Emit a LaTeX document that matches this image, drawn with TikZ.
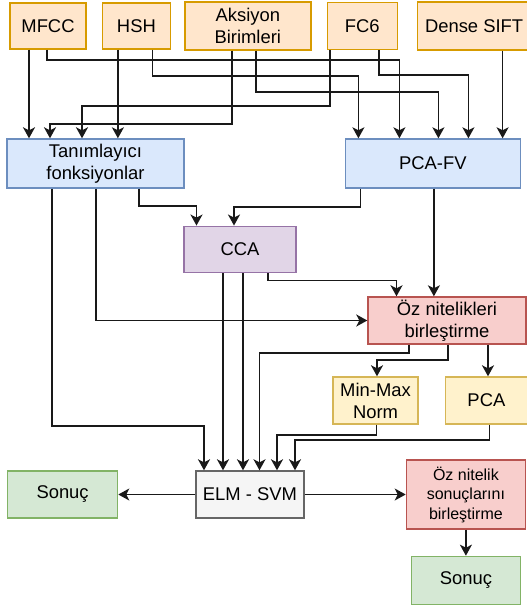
\documentclass[tikz,border=0pt]{standalone}
\usepackage{fontspec}
\setmainfont{Liberation Sans}
\usepackage{xcolor}
\usetikzlibrary{positioning,arrows.meta}

\definecolor{orangeline}{HTML}{D79B00}
\definecolor{orangefill}{HTML}{FFE6CC}
\definecolor{blueline}{HTML}{6C8EBF}
\definecolor{bluefill}{HTML}{DAE8FC}
\definecolor{purpleline}{HTML}{9673A6}
\definecolor{purplefill}{HTML}{E1D5E7}
\definecolor{redline}{HTML}{B85450}
\definecolor{redfill}{HTML}{F8CECC}
\definecolor{yellowline}{HTML}{D6B656}
\definecolor{yellowfill}{HTML}{FFF2CC}
\definecolor{grayline}{HTML}{666666}
\definecolor{grayfill}{HTML}{F5F5F5}
\definecolor{greenline}{HTML}{82B366}
\definecolor{greenfill}{HTML}{D5E8D4}

\begin{document}
\begin{tikzpicture}[
  x=1pt, y=-1pt,
  font=\fontsize{18.4}{22}\selectfont,
  >={Stealth[length=11pt,width=12pt,inset=3pt]},
  node distance=15pt,
  box/.style={
    draw=#1line,
    fill=#1fill,
    line width=1.4pt,
    align=center,
    inner sep=2pt
  },
  flow/.style={->,line width=1.6pt,draw=black!90}
]
\useasboundingbox (0,0) rectangle (527,605);

% feature sources
\node[box=orange, minimum width=76pt, minimum height=46pt] (mfcc) at (48,26) {MFCC};
\node[box=orange, minimum width=68pt, minimum height=46pt, right=15pt of mfcc] (hsh) {HSH};
\node[box=orange, minimum width=126pt, minimum height=48pt, right=13pt of hsh] (aksiyon) {Aksiyon\\Birimleri};
\node[box=orange, minimum width=70pt, minimum height=47pt, right=15pt of aksiyon] (fc6) {FC6};
\node[box=orange, minimum width=113pt, minimum height=48pt, right=19pt of fc6] (dense) {Dense SIFT};

% descriptors
\node[box=blue, minimum width=177pt, minimum height=49pt] (tan) at (95.5,163.5) {Tanımlayıcı\\fonksiyonlar};
\node[box=blue, minimum width=175pt, minimum height=49pt, right=160pt of tan] (pcafv) {PCA-FV};
\node[box=purple, minimum width=112pt, minimum height=46.5pt] (cca) at (240,249.5) {CCA};

% fusion
\node[box=red, minimum width=158pt, minimum height=47pt] (ozn) at (447,320.5) {Öz nitelikleri\\birleştirme};
\node[box=yellow, minimum width=85pt, minimum height=47pt] (minmax) at (375.5,400.5) {Min-Max\\Norm};
\node[box=yellow, minimum width=82pt, minimum height=47pt, right=26pt of minmax] (pca) {PCA};

% classifiers and results
\node[box=gray, minimum width=108pt, minimum height=47pt] (elm) at (250,494.5) {ELM - SVM};
\node[box=green, minimum width=110pt, minimum height=47pt, left=77pt of elm] (sonuc1) {Sonuç};
\node[box=red, minimum width=119pt, minimum height=69pt, font=\fontsize{16}{19.5}\selectfont, right=101pt of elm] (ozs) {Öz nitelik\\sonuçlarını\\birleştirme};
\node[box=green, minimum width=109pt, minimum height=48pt, below=26pt of ozs] (sonuc2) {Sonuç};

% sources to descriptors
\draw[flow] ([xshift=-19pt]mfcc.south) -- ([xshift=-19pt]mfcc.south |- tan.north);
\draw[flow] ([xshift=-1pt]mfcc.south) -- ++(0,10) -| ([xshift=-33.5pt]pcafv.north);
\draw[flow] ([xshift=-18.5pt]hsh.south) -- ([xshift=-18.5pt]hsh.south |- tan.north);
\draw[flow] ([xshift=16pt]hsh.south) -- ++(0,26) -| ([xshift=-74.5pt]pcafv.north);
\draw[flow] ([xshift=-16pt]aksiyon.south) -- ++(0,73) -| ([xshift=-45.5pt]tan.north);
\draw[flow] ([xshift=8pt]aksiyon.south) -- ++(0,41) -| ([xshift=5.5pt]pcafv.north);
\draw[flow] ([xshift=-32pt]fc6.south) -- ++(0,56) -| ([xshift=-13.5pt]tan.north);
\draw[flow] ([xshift=17pt]fc6.south) -- ++(0,25) -| ([xshift=35.5pt]pcafv.north);
\draw[flow] ([xshift=28.5pt]dense.south) -- ([xshift=28.5pt]dense.south |- pcafv.north);

% descriptors to CCA and fusion
\draw[flow] ([xshift=43.5pt]tan.south) -- ++(0,17) -| ([xshift=-43.5pt]cca.north);
\draw[flow] ([xshift=-72.5pt]pcafv.south) -- ++(0,18.5) -| ([xshift=-6pt]cca.north);
\draw[flow] ([xshift=1pt]pcafv.south) -- ([xshift=1pt]pcafv.south |- ozn.north);
\draw[flow] ([xshift=0.5pt]tan.south) |- (ozn.west);
\draw[flow] ([xshift=-43.5pt]tan.south) -- ++(0,237) -| ([xshift=-46pt]elm.north);
\draw[flow] ([xshift=-17pt]cca.south) -- ([xshift=-17pt]cca.south |- elm.north);
\draw[flow] ([xshift=3pt]cca.south) -- ([xshift=3pt]cca.south |- elm.north);
\draw[flow] ([xshift=28pt]cca.south) -- ++(0,7) -| ([xshift=-50.5pt]ozn.north);

% fusion outputs
\draw[flow] ([xshift=-38pt]ozn.south) -- ++(0,8) -| ([xshift=9.5pt]elm.north);
\draw[flow] ([xshift=1pt]ozn.south) -- ++(0,15.5) -| ([xshift=1.5pt]minmax.north);
\draw[flow] ([xshift=41pt]ozn.south) -- ([xshift=41pt]ozn.south |- pca.north);
\draw[flow] ([xshift=1pt]minmax.south) -- ++(0,10.5) -| ([xshift=27pt]elm.north);
\draw[flow] ([xshift=3pt]pca.south) -- ++(0,15.5) -| ([xshift=45pt]elm.north);

% results
\draw[flow] (elm.west) -- (sonuc1.east);
\draw[flow] (elm.east) -- (elm.east -| ozs.west);
\draw[flow] (ozs.south) -- (sonuc2.north);
\end{tikzpicture}
\end{document}
